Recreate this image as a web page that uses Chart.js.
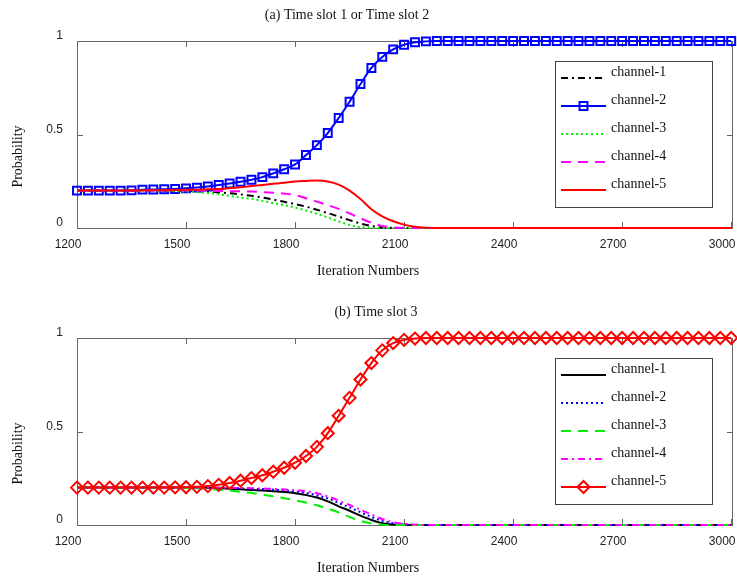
<!DOCTYPE html>
<html lang="en">
<head>
<meta charset="UTF-8">
<title>Channel selection probability</title>
<script src="https://cdn.jsdelivr.net/npm/chart.js"></script>
<style>
  body { margin: 0; background: #fff; }
  #wrap { position: relative; width: 737px; height: 576px; }
  canvas { position: absolute; left: 0; }
</style>
</head>
<body>
<div id="wrap">
  <canvas id="slot12" width="737" height="290" style="top:0"></canvas>
  <canvas id="slot3" width="737" height="286" style="top:290px"></canvas>
</div>
<script>
// iteration grid shared by every curve
const iterations = [
  1200, 1230, 1260, 1290, 1320, 1350, 1380, 1410, 1440, 1470,
  1500, 1530, 1560, 1590, 1620, 1650, 1680, 1710, 1740, 1770,
  1800, 1830, 1860, 1890, 1920, 1950, 1980, 2010, 2040, 2070,
  2100, 2130, 2160, 2190, 2220, 2250, 2280, 2310, 2340, 2370,
  2400, 2430, 2460, 2490, 2520, 2550, 2580, 2610, 2640, 2670,
  2700, 2730, 2760, 2790, 2820, 2850, 2880, 2910, 2940, 2970,
  3000
];
const xTicks = [1200, 1500, 1800, 2100, 2400, 2700, 3000];
const yTicks = [0, 0.5, 1];
const channelNames = ['channel-1', 'channel-2', 'channel-3', 'channel-4', 'channel-5'];

// (a) time slot 1 or 2
const slotA_ch1 = [
  0.2, 0.2, 0.2, 0.2, 0.2, 0.2, 0.2, 0.2, 0.199, 0.199,
  0.198, 0.197, 0.195, 0.19, 0.186, 0.18, 0.172, 0.163, 0.152, 0.14,
  0.128, 0.114, 0.098, 0.08, 0.061, 0.042, 0.024, 0.011, 0.003, 0.001,
  0, 0, 0, 0, 0, 0, 0, 0, 0, 0,
  0, 0, 0, 0, 0, 0, 0, 0, 0, 0,
  0, 0, 0, 0, 0, 0, 0, 0, 0, 0,
  0
];
const slotA_ch2 = [
  0.2, 0.2, 0.2, 0.2, 0.2, 0.201, 0.205, 0.206, 0.207, 0.209,
  0.212, 0.216, 0.222, 0.23, 0.238, 0.247, 0.258, 0.272, 0.292, 0.314,
  0.34, 0.39, 0.443, 0.508, 0.588, 0.675, 0.77, 0.856, 0.915, 0.955,
  0.98, 0.993, 0.998, 1, 1, 1, 1, 1, 1, 1,
  1, 1, 1, 1, 1, 1, 1, 1, 1, 1,
  1, 1, 1, 1, 1, 1, 1, 1, 1, 1,
  1
];
const slotA_ch3 = [
  0.2, 0.2, 0.2, 0.2, 0.2, 0.2, 0.2, 0.2, 0.198, 0.197,
  0.195, 0.192, 0.187, 0.18, 0.172, 0.163, 0.155, 0.146, 0.133, 0.122,
  0.109, 0.094, 0.076, 0.056, 0.035, 0.016, 0.005, 0.001, 0, 0,
  0, 0, 0, 0, 0, 0, 0, 0, 0, 0,
  0, 0, 0, 0, 0, 0, 0, 0, 0, 0,
  0, 0, 0, 0, 0, 0, 0, 0, 0, 0,
  0
];
const slotA_ch4 = [
  0.2, 0.2, 0.2, 0.2, 0.2, 0.2, 0.2, 0.2, 0.2, 0.2,
  0.2, 0.2, 0.199, 0.198, 0.197, 0.196, 0.195, 0.192, 0.188, 0.184,
  0.176, 0.159, 0.141, 0.123, 0.102, 0.078, 0.052, 0.028, 0.011, 0.003,
  0.001, 0, 0, 0, 0, 0, 0, 0, 0, 0,
  0, 0, 0, 0, 0, 0, 0, 0, 0, 0,
  0, 0, 0, 0, 0, 0, 0, 0, 0, 0,
  0
];
const slotA_ch5 = [
  0.2, 0.2, 0.2, 0.2, 0.2, 0.201, 0.201, 0.202, 0.202, 0.203,
  0.204, 0.205, 0.207, 0.209, 0.213, 0.218, 0.224, 0.23, 0.236, 0.242,
  0.249, 0.252, 0.254, 0.249, 0.232, 0.2, 0.155, 0.1, 0.062, 0.036,
  0.018, 0.007, 0.002, 0, 0, 0, 0, 0, 0, 0,
  0, 0, 0, 0, 0, 0, 0, 0, 0, 0,
  0, 0, 0, 0, 0, 0, 0, 0, 0, 0,
  0
];

// (b) time slot 3
const slotB_ch1 = [
  0.2, 0.2, 0.2, 0.2, 0.2, 0.2, 0.2, 0.2, 0.2, 0.2,
  0.2, 0.2, 0.199, 0.197, 0.194, 0.191, 0.187, 0.184, 0.18, 0.176,
  0.17, 0.16, 0.147, 0.126, 0.1, 0.076, 0.05, 0.027, 0.01, 0.003,
  0.001, 0, 0, 0, 0, 0, 0, 0, 0, 0,
  0, 0, 0, 0, 0, 0, 0, 0, 0, 0,
  0, 0, 0, 0, 0, 0, 0, 0, 0, 0,
  0
];
const slotB_ch2 = [
  0.2, 0.2, 0.2, 0.2, 0.2, 0.2, 0.2, 0.2, 0.2, 0.2,
  0.2, 0.2, 0.2, 0.199, 0.198, 0.196, 0.194, 0.192, 0.189, 0.185,
  0.179, 0.171, 0.159, 0.142, 0.118, 0.094, 0.068, 0.043, 0.022, 0.009,
  0.003, 0.001, 0, 0, 0, 0, 0, 0, 0, 0,
  0, 0, 0, 0, 0, 0, 0, 0, 0, 0,
  0, 0, 0, 0, 0, 0, 0, 0, 0, 0,
  0
];
const slotB_ch3 = [
  0.2, 0.2, 0.2, 0.2, 0.2, 0.2, 0.2, 0.2, 0.2, 0.199,
  0.198, 0.196, 0.193, 0.189, 0.184, 0.178, 0.171, 0.163, 0.153, 0.143,
  0.132, 0.12, 0.106, 0.088, 0.067, 0.043, 0.022, 0.008, 0.002, 0,
  0, 0, 0, 0, 0, 0, 0, 0, 0, 0,
  0, 0, 0, 0, 0, 0, 0, 0, 0, 0,
  0, 0, 0, 0, 0, 0, 0, 0, 0, 0,
  0
];
const slotB_ch4 = [
  0.2, 0.2, 0.2, 0.2, 0.2, 0.2, 0.2, 0.2, 0.2, 0.2,
  0.2, 0.2, 0.2, 0.2, 0.199, 0.198, 0.197, 0.195, 0.193, 0.19,
  0.186, 0.18, 0.17, 0.153, 0.131, 0.107, 0.082, 0.056, 0.032, 0.015,
  0.006, 0.002, 0, 0, 0, 0, 0, 0, 0, 0,
  0, 0, 0, 0, 0, 0, 0, 0, 0, 0,
  0, 0, 0, 0, 0, 0, 0, 0, 0, 0,
  0
];
const slotB_ch5 = [
  0.2, 0.2, 0.2, 0.2, 0.2, 0.2, 0.2, 0.2, 0.2, 0.201,
  0.202, 0.204, 0.208, 0.215, 0.225, 0.237, 0.251, 0.266, 0.285, 0.306,
  0.333, 0.369, 0.418, 0.491, 0.584, 0.68, 0.778, 0.866, 0.934, 0.973,
  0.99, 0.997, 1, 1, 1, 1, 1, 1, 1, 1,
  1, 1, 1, 1, 1, 1, 1, 1, 1, 1,
  1, 1, 1, 1, 1, 1, 1, 1, 1, 1,
  1
];

const SANS = '"Liberation Sans", Arial, sans-serif';
const SERIF = '"Liberation Serif", "Times New Roman", serif';
const NONE = 'rgba(0,0,0,0)';

const dashDot = [7, 4, 2, 4];
const dotted = [2, 3];
const dashed = [10, 7];

function lineStyle(color, dash) {
  return { borderColor: color, borderDash: dash, pointRadius: 0 };
}

function toPoints(values) {
  return iterations.map((x, i) => ({ x: x, y: values[i] }));
}

// box, inward ticks, labels, titles and the boxed legend
function framePlugin(cfg) {
  return {
    id: 'frame',
    beforeDatasetsDraw(chart) {
      const { ctx, chartArea: a, scales } = chart;
      ctx.save();
      ctx.strokeStyle = '#666';
      ctx.lineWidth = 1;
      ctx.strokeRect(a.left + 0.5, a.top + 0.5, a.right - a.left - 1, a.bottom - a.top);
      ctx.beginPath();
      xTicks.forEach(v => {
        const px = Math.round(scales.x.getPixelForValue(v)) + 0.5;
        ctx.moveTo(px, a.bottom); ctx.lineTo(px, a.bottom - 6);
        ctx.moveTo(px, a.top); ctx.lineTo(px, a.top + 6);
      });
      yTicks.forEach(v => {
        const py = Math.round(scales.y.getPixelForValue(v)) + 0.5;
        ctx.moveTo(a.left, py); ctx.lineTo(a.left + 6, py);
        ctx.moveTo(a.right, py); ctx.lineTo(a.right - 6, py);
      });
      ctx.stroke();
      ctx.restore();
    },
    afterDraw(chart) {
      const { ctx, chartArea: a, scales } = chart;
      ctx.save();
      ctx.fillStyle = '#222';
      ctx.font = '12px ' + SANS;
      ctx.textBaseline = 'middle';
      ctx.textAlign = 'center';
      xTicks.forEach(v => {
        ctx.fillText(String(v), scales.x.getPixelForValue(v) - 9, a.bottom + 16.5);
      });
      ctx.textAlign = 'right';
      yTicks.forEach(v => {
        ctx.fillText(String(v), 63, scales.y.getPixelForValue(v) - 5);
      });

      ctx.fillStyle = '#111';
      ctx.font = '14px ' + SERIF;
      ctx.textAlign = 'center';
      ctx.fillText(cfg.title, cfg.titleX, a.top - 26);
      ctx.fillText('Iteration Numbers', 368, a.bottom + 43);
      ctx.save();
      ctx.translate(18, (a.top + a.bottom) / 2 + 22);
      ctx.rotate(-Math.PI / 2);
      ctx.fillText('Probability', 0, 0);
      ctx.restore();

      // legend
      const bx = 555, by = a.top + 20, bw = 157, bh = 146;
      ctx.fillStyle = '#fff';
      ctx.fillRect(bx, by, bw, bh);
      ctx.strokeStyle = '#444';
      ctx.lineWidth = 1;
      ctx.strokeRect(bx + 0.5, by + 0.5, bw, bh);
      chart.data.datasets.forEach((ds, i) => {
        const ly = by + 17 + 28 * i;
        ctx.save();
        ctx.strokeStyle = ds.borderColor;
        ctx.lineWidth = ds.borderWidth;
        ctx.setLineDash(ds.borderDash || []);
        ctx.beginPath();
        ctx.moveTo(561, ly);
        ctx.lineTo(606, ly);
        ctx.stroke();
        ctx.setLineDash([]);
        if (ds.pointRadius > 0) {
          ctx.fillStyle = NONE;
          ctx.lineWidth = ds.pointBorderWidth;
          Chart.helpers.drawPoint(ctx, {
            pointStyle: ds.pointStyle, radius: ds.pointRadius,
            rotation: 0, borderWidth: ds.pointBorderWidth
          }, 583.5, ly);
        }
        ctx.restore();
        ctx.fillStyle = '#111';
        ctx.font = '14px ' + SERIF;
        ctx.textAlign = 'left';
        ctx.fillText(channelNames[i], 611, ly - 6);
      });
      ctx.restore();
    }
  };
}

function makeChart(id, cfg) {
  const canvas = document.getElementById(id);
  const datasets = cfg.series.map((values, i) => Object.assign({
    label: channelNames[i],
    data: toPoints(values),
    borderWidth: 2,
    backgroundColor: NONE,
    pointBackgroundColor: NONE,
    cubicInterpolationMode: 'monotone',
    clip: false,
    order: 5 - i
  }, cfg.styles[i]));

  return new Chart(canvas, {
    type: 'line',
    data: { datasets },
    options: {
      responsive: false,
      animation: false,
      devicePixelRatio: 1,
      events: [],
      layout: { autoPadding: false, padding: { top: cfg.top, right: 4, left: 0, bottom: 0 } },
      plugins: { legend: { display: false }, tooltip: { enabled: false }, title: { display: false } },
      scales: {
        x: {
          type: 'linear', min: 1200, max: 3005,
          ticks: { display: false }, grid: { display: false }, border: { display: false },
          afterFit: s => { s.height = canvas.height - cfg.bottom; }
        },
        y: {
          min: 0, max: 1,
          ticks: { display: false }, grid: { display: false }, border: { display: false },
          afterFit: s => { s.width = 77; }
        }
      }
    },
    plugins: [framePlugin(cfg)]
  });
}

makeChart('slot12', {
  title: '(a) Time slot 1 or Time slot 2',
  titleX: 347,
  top: 41,
  bottom: 228,
  series: [slotA_ch1, slotA_ch2, slotA_ch3, slotA_ch4, slotA_ch5],
  styles: [
    lineStyle('#000000', dashDot),
    { borderColor: '#0000ff', pointStyle: 'rect', pointRadius: 5.6, pointBorderWidth: 2, pointBorderColor: '#0000ff' },
    lineStyle('#00ee00', dotted),
    lineStyle('#ff00ff', dashed),
    lineStyle('#ff0000', [])
  ]
});

makeChart('slot3', {
  title: '(b) Time slot 3',
  titleX: 376,
  top: 48,
  bottom: 235,
  series: [slotB_ch1, slotB_ch2, slotB_ch3, slotB_ch4, slotB_ch5],
  styles: [
    lineStyle('#000000', []),
    lineStyle('#0000ff', dotted),
    lineStyle('#00ee00', dashed),
    lineStyle('#ff00ff', dashDot),
    { borderColor: '#ff0000', pointStyle: 'rectRot', pointRadius: 6, pointBorderWidth: 2, pointBorderColor: '#ff0000' }
  ]
});
</script>
</body>
</html>
